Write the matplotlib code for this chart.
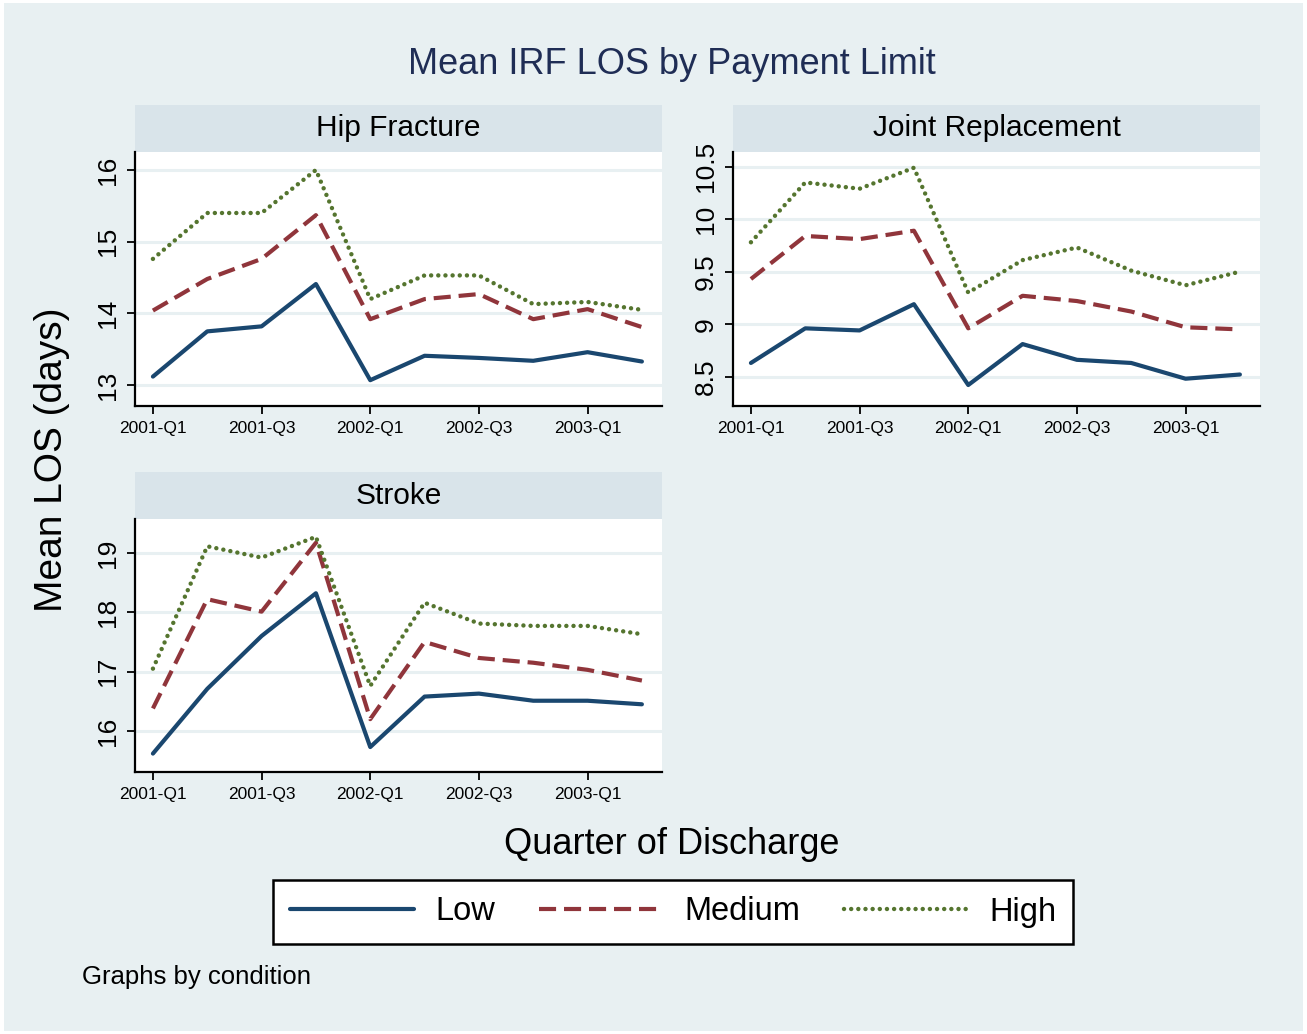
import matplotlib
matplotlib.use('Agg')
import matplotlib.pyplot as plt
from matplotlib.lines import Line2D
from matplotlib.patches import Rectangle

W, H = 1307, 1034

quarters = ['2001-Q1', '2001-Q2', '2001-Q3', '2001-Q4', '2002-Q1',
            '2002-Q2', '2002-Q3', '2002-Q4', '2003-Q1', '2003-Q2']

hip_low = [13.12, 13.75, 13.82, 14.41, 13.07, 13.41, 13.38, 13.34, 13.46, 13.33]
hip_med = [14.04, 14.48, 14.76, 15.37, 13.92, 14.20, 14.27, 13.92, 14.06, 13.81]
hip_high = [14.76, 15.40, 15.40, 16.00, 14.20, 14.53, 14.53, 14.13, 14.16, 14.05]

joint_low = [8.63, 8.96, 8.94, 9.19, 8.42, 8.81, 8.66, 8.63, 8.48, 8.52]
joint_med = [9.43, 9.84, 9.81, 9.89, 8.96, 9.27, 9.22, 9.12, 8.97, 8.95]
joint_high = [9.78, 10.35, 10.29, 10.49, 9.30, 9.61, 9.73, 9.51, 9.37, 9.50]

stroke_low = [15.62, 16.71, 17.60, 18.32, 15.73, 16.58, 16.63, 16.51, 16.51, 16.45]
stroke_med = [16.38, 18.22, 18.01, 19.17, 16.20, 17.50, 17.23, 17.15, 17.03, 16.85]
stroke_high = [17.05, 19.11, 18.92, 19.27, 16.76, 18.16, 17.81, 17.77, 17.77, 17.63]

series_names = ['Low', 'Medium', 'High']

BG = '#e8f0f2'
STRIP = '#d9e4ea'
GRID = '#e8f0f2'
NAVY = '#1a476f'
MAROON = '#90353b'
GREEN = '#55752f'

styles = [
    dict(color=NAVY, lw=3.0, ls='-', solid_capstyle='round'),
    dict(color=MAROON, lw=3.0, ls=(0, (4.1, 1.9))),
    dict(color=GREEN, lw=3.2, ls=(0, (0.01, 1.6)), dash_capstyle='round'),
]

FONT = ['Liberation Sans', 'DejaVu Sans']
NARROW = ['Liberation Sans Narrow', 'Liberation Sans', 'DejaVu Sans']
plt.rcParams['font.family'] = FONT


def px(x0, y0, x1, y1):
    return [x0 / W, 1 - y1 / H, (x1 - x0) / W, (y1 - y0) / H]


def draw_panel(fig, box, title, data, ylim, yticks, ylabels):
    x0, y0, x1, y1 = box
    strip = fig.add_axes(px(x0, y0 - 47, x1, y0))
    strip.set_facecolor(STRIP)
    strip.set_xticks([])
    strip.set_yticks([])
    for s in strip.spines.values():
        s.set_visible(False)
    strip.text(0.5, 0.5, title, ha='center', va='center', fontsize=21.5,
               transform=strip.transAxes)

    ax = fig.add_axes(px(x0, y0, x1, y1))
    ax.set_facecolor('white')
    xs = list(range(len(quarters)))
    for vals, st in zip(data, styles):
        ax.plot(xs, vals, **st)
    ax.set_xlim(-0.33, 9.37)
    ax.set_ylim(*ylim)
    ax.set_xticks(xs[::2])
    ax.set_xticklabels(quarters[::2], fontsize=12.5, family=NARROW)
    ax.set_yticks(yticks)
    ax.set_yticklabels(ylabels, rotation=90, va='center', fontsize=19)
    ax.yaxis.grid(True, color=GRID, lw=2.2)
    ax.set_axisbelow(True)
    ax.spines['top'].set_visible(False)
    ax.spines['right'].set_visible(False)
    ax.spines['left'].set_linewidth(1.6)
    ax.spines['bottom'].set_linewidth(1.6)
    ax.tick_params(direction='out', length=6, width=1.3, pad=5)
    return ax


fig = plt.figure(figsize=(W / 100, H / 100), dpi=100)
fig.patch.set_facecolor('white')
fig.patches.append(Rectangle((4 / W, 3 / H), (W - 8) / W, (H - 6) / H,
                             transform=fig.transFigure, facecolor=BG,
                             edgecolor='none', zorder=-1))

draw_panel(fig, (135, 152, 662, 406), 'Hip Fracture',
           [hip_low, hip_med, hip_high], (12.71, 16.25),
           [13, 14, 15, 16], ['13', '14', '15', '16'])
draw_panel(fig, (733, 152, 1260, 406), 'Joint Replacement',
           [joint_low, joint_med, joint_high], (8.22, 10.64),
           [8.5, 9, 9.5, 10, 10.5], ['8.5', '9', '9.5', '10', '10.5'])
draw_panel(fig, (135, 519, 662, 772), 'Stroke',
           [stroke_low, stroke_med, stroke_high], (15.31, 19.57),
           [16, 17, 18, 19], ['16', '17', '18', '19'])

fig.text(672 / W, 1 - 65 / H, 'Mean IRF LOS by Payment Limit', ha='center',
         va='center', fontsize=26, color='#1f2d55')
fig.text(52 / W, 1 - 460 / H, 'Mean LOS (days)', ha='center', va='center',
         rotation=90, fontsize=28)
fig.text(672 / W, 1 - 845 / H, 'Quarter of Discharge', ha='center',
         va='center', fontsize=26)
fig.text(82 / W, 1 - 977 / H, 'Graphs by condition', ha='left', va='center',
         fontsize=18.5)

handles = [Line2D([], [], **st) for st in styles]
leg = fig.legend(handles, series_names, loc='center',
                 bbox_to_anchor=(673 / W, 1 - 912 / H), ncol=3, fontsize=23.5,
                 frameon=True, fancybox=False, edgecolor='black',
                 facecolor='white', framealpha=1, handlelength=3.8,
                 handletextpad=0.65, columnspacing=1.35, borderpad=0.5,
                 borderaxespad=0)
leg.get_frame().set_linewidth(1.8)

fig.savefig('out.png', dpi=100, facecolor=fig.get_facecolor())
